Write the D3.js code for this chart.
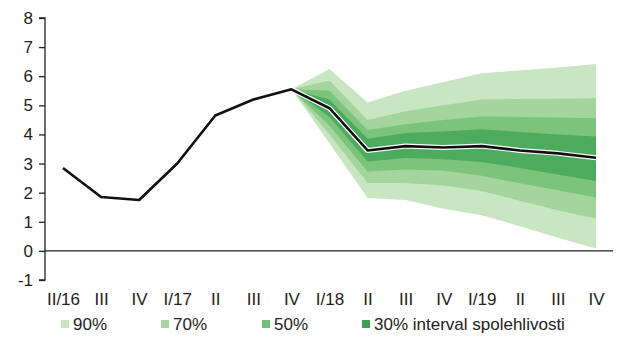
<!DOCTYPE html>
<html>
<head>
<meta charset="utf-8">
<script src="https://cdn.jsdelivr.net/npm/d3@7/dist/d3.min.js"></script>
<style>
  html, body { margin: 0; padding: 0; background: #fff; }
  svg { display: block; font-family: "Liberation Sans", Arial, sans-serif; }
</style>
</head>
<body>
<svg id="chart" width="640" height="360"></svg>
<script>
// ---- data ----
const quarters = ["II/16","III","IV","I/17","II","III","IV","I/18","II","III","IV","I/19","II","III","IV"];
const actual   = [2.85, 1.85, 1.75, 3.0, 4.65, 5.2, 5.55, 4.9, 3.45, 3.6, 3.55, 3.6, 3.45, 3.35, 3.2];
const fanStart = 6; // fan starts at IV/17
const upper90 = [5.55, 6.25, 5.1, 5.5, 5.8, 6.1, 6.2, 6.3, 6.42];
const upper70 = [5.55, 5.85, 4.5, 4.8, 5.0, 5.2, 5.22, 5.23, 5.24];
const upper50 = [5.55, 5.5, 4.15, 4.35, 4.5, 4.62, 4.6, 4.58, 4.56];
const upper30 = [5.55, 5.2, 3.85, 4.05, 4.1, 4.18, 4.08, 4.0, 3.93];
const lower30 = [5.55, 4.6, 3.07, 3.19, 3.15, 3.05, 2.85, 2.62, 2.4];
const lower50 = [5.55, 4.3, 2.73, 2.8, 2.75, 2.58, 2.32, 2.08, 1.83];
const lower70 = [5.55, 4.0, 2.33, 2.33, 2.25, 2.06, 1.72, 1.4, 1.1];
const lower90 = [5.55, 3.7, 1.82, 1.75, 1.45, 1.22, 0.85, 0.45, 0.08];
const yTicks = [-1, 0, 1, 2, 3, 4, 5, 6, 7, 8];
const legendLabels = ["90%", "70%", "50%", "30% interval spolehlivosti"];
const bandColors = ["#c8e6c2", "#a4d59d", "#7cc37c", "#4dab5f"];
const legendColors = ["#c8e6c2", "#a4d59d", "#74be78", "#3e9f52"];

// ---- scales ----
const svg = d3.select("#chart");
const x = d3.scalePoint().domain(d3.range(quarters.length)).range([63, 596]);
const y = d3.scaleLinear().domain([-1, 8]).range([280, 18]);

// ---- fan bands ----
const bands = [
  {lo: lower90, hi: upper90},
  {lo: lower70, hi: upper70},
  {lo: lower50, hi: upper50},
  {lo: lower30, hi: upper30}
];
const area = d3.area()
  .x((d, i) => x(fanStart + i))
  .y0(d => y(d[0]))
  .y1(d => y(d[1]));
bands.forEach((b, k) => {
  const pts = b.lo.map((v, i) => [v, b.hi[i]]);
  svg.append("path").attr("d", area(pts)).attr("fill", bandColors[k]);
});

// ---- y axis ----
const yAxis = svg.append("g")
  .attr("transform", "translate(45,0)")
  .call(d3.axisLeft(y).tickValues(yTicks).tickSize(6).tickPadding(6).tickFormat(d => String(d)));
yAxis.select(".domain").attr("stroke", "#222").attr("stroke-width", 1.3).attr("d", `M-6,${y(8)}H0V${y(-1)}H-6`);
yAxis.selectAll(".tick line").attr("stroke", "#222").attr("stroke-width", 1.3);
yAxis.selectAll(".tick text").attr("font-size", 17).attr("fill", "#222")
  .attr("font-family", "Liberation Sans, Arial, sans-serif");

// ---- zero line ----
svg.append("line")
  .attr("x1", 45).attr("x2", 613)
  .attr("y1", y(0)).attr("y2", y(0))
  .attr("stroke", "#222").attr("stroke-width", 1.3);

// ---- x labels ----
const xAxis = svg.append("g")
  .attr("transform", `translate(0,${y(-1) + 13})`)
  .call(d3.axisBottom(x).tickSize(0).tickPadding(0).tickFormat(i => quarters[i]));
xAxis.select(".domain").remove();
xAxis.selectAll(".tick text").attr("font-size", 17).attr("fill", "#222")
  .attr("font-family", "Liberation Sans, Arial, sans-serif");

// ---- line ----
const line = d3.line().x((d, i) => x(i)).y(d => y(d));
svg.append("path").attr("d", line(actual)).attr("fill", "none")
  .attr("stroke", "#fff").attr("stroke-width", 5).attr("stroke-linejoin", "round");
svg.append("path").attr("d", line(actual)).attr("fill", "none")
  .attr("stroke", "#111").attr("stroke-width", 2.6).attr("stroke-linejoin", "round");

// ---- legend ----
const legendX = [61, 161, 262, 362];
const legendY = 324;
const lg = svg.append("g");
legendLabels.forEach((t, i) => {
  lg.append("rect").attr("x", legendX[i]).attr("y", legendY - 4).attr("width", 8).attr("height", 8)
    .attr("fill", legendColors[i]);
  lg.append("text").attr("x", legendX[i] + 12).attr("y", legendY + 6)
    .attr("font-size", 17).attr("fill", "#222").text(t);
});
</script>
</body>
</html>
